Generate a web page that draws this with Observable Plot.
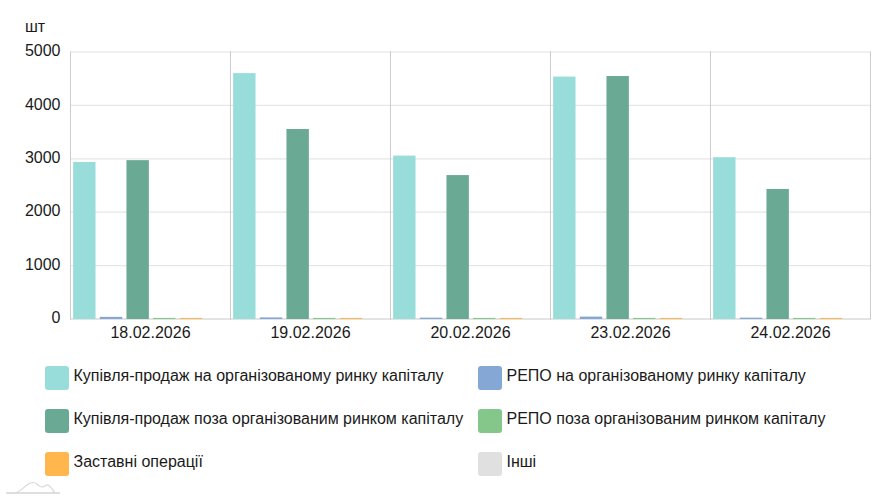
<!DOCTYPE html>
<html><head><meta charset="utf-8">
<script src="https://cdn.jsdelivr.net/npm/d3@7"></script>
<script src="https://cdn.jsdelivr.net/npm/@observablehq/plot@0.6"></script>
<style>
html,body{margin:0;padding:0;background:#fff;}
body{width:891px;height:500px;position:relative;overflow:hidden;font-family:"Liberation Sans",Arial,sans-serif;color:#1a1a1a;}
#chart{position:absolute;left:0;top:0;}
#unit{position:absolute;left:25px;top:18px;font-size:16px;line-height:18px;}
#legend{position:absolute;left:45px;top:366px;display:grid;grid-template-columns:433px 390px;row-gap:19px;font-size:16px;}
.item{display:flex;align-items:flex-start;height:24px;}
.sw{width:24px;height:24px;border-radius:3px;margin-right:4.5px;flex:none;}
.lb{line-height:20px;}
#logo{position:absolute;left:6px;top:481px;}
</style></head><body>
<div id="chart"></div>
<div id="unit">шт</div>
<div id="legend"></div>
<svg id="logo" width="56" height="15" viewBox="0 0 56 15"><path d="M0 12H54" stroke="#d4d4d4" stroke-width="1.5" fill="none"/><path d="M9 12C17 10 20 1.5 27 1.5C31 1.5 33 6 36 6C39 6 40 3.5 42 4C45 5 47 10 49 12" stroke="#d8d8d8" stroke-width="1.2" fill="none"/></svg>
<script>
const dates = ["18.02.2026","19.02.2026","20.02.2026","23.02.2026","24.02.2026"];
const series = [
  "Купівля-продаж на організованому ринку капіталу",
  "РЕПО на організованому ринку капіталу",
  "Купівля-продаж поза організованим ринком капіталу",
  "РЕПО поза організованим ринком капіталу",
  "Заставні операції",
  "Інші"
];
const colors = ["#99DDDB","#84A7D5","#6AA994","#85C78A","#FFB74D","#E0E0E0"];
const buySellOrg  = [2940,4605,3060,4540,3030];
const repoOrg     = [40,30,25,45,25];
const buySellOff  = [2975,3558,2695,4550,2435];
const repoOff     = [20,20,20,20,20];
const pledge      = [20,20,20,20,20];
const other       = [0,0,0,0,0];
const columns = [buySellOrg,repoOrg,buySellOff,repoOff,pledge,other];
const rows = series.flatMap((s,i)=>dates.map((d,j)=>({date:d,series:s,value:columns[i][j]})));

const plot = Plot.plot({
  width:891,height:345,
  marginLeft:70,marginRight:21,marginTop:51.5,marginBottom:26.5,
  style:{fontSize:"16px",fontFamily:"'Liberation Sans',Arial,sans-serif",color:"#1a1a1a",background:"transparent"},
  fx:{domain:dates,padding:0,label:null,round:false},
  x:{domain:series,paddingInner:0.16,paddingOuter:0.08,axis:null,round:false},
  y:{domain:[0,5000],ticks:[0,1000,2000,3000,4000,5000]},
  color:{domain:series,range:colors},
  marks:[
    Plot.ruleY([1000,2000,3000,4000],{stroke:"#e6e6e6",strokeWidth:1.2}),
    Plot.ruleY([5000],{stroke:"#e0e0e0"}),
    Plot.ruleY([0],{stroke:"#c8c8c8"}),
    Plot.barY(rows,{fx:"date",x:"series",y:"value",fill:"series",dx:1,dy:0.5}),
    Plot.frame({anchor:"left",stroke:"#cccccc"}),
    Plot.frame({anchor:"right",stroke:"#cccccc"}),
    Plot.axisY({ticks:[0,1000,2000,3000,4000,5000],tickSize:0,tickPadding:10,tickFormat:d=>String(d),label:null,dy:-1}),
    Plot.axisFx({domain:dates,anchor:"bottom",tickSize:0,tickPadding:8,label:null})
  ]
});
document.getElementById("chart").append(plot);

const legend = d3.select("#legend");
series.forEach((s,i)=>{
  const it = legend.append("div").attr("class","item");
  it.append("div").attr("class","sw").style("background",colors[i]);
  it.append("div").attr("class","lb").text(s);
});
</script>
</body></html>
